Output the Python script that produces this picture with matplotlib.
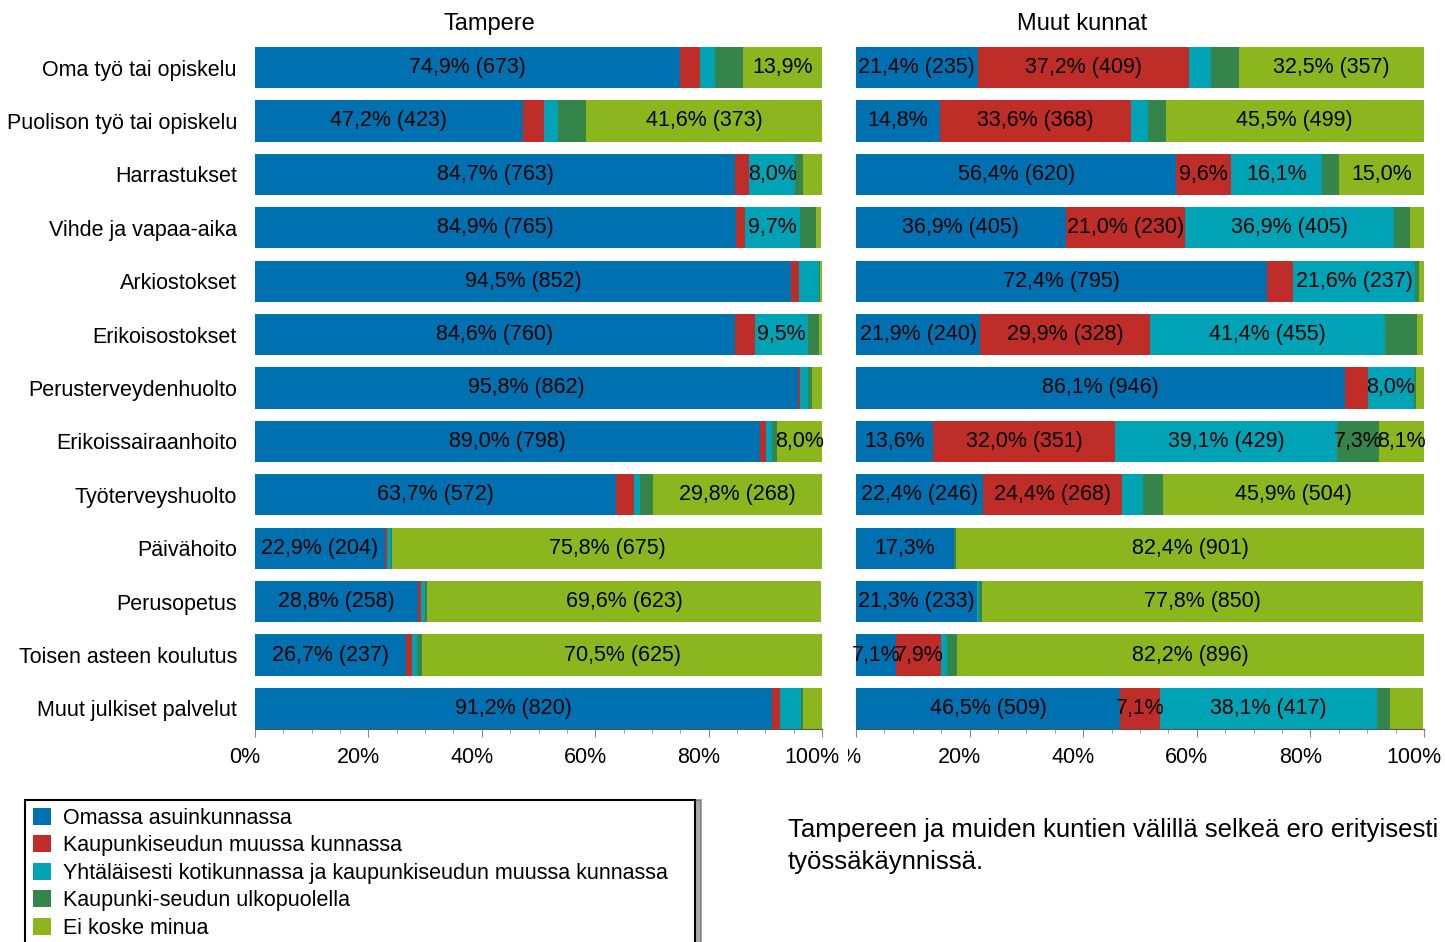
import matplotlib
matplotlib.use("Agg")
import matplotlib.pyplot as plt
from matplotlib.patches import Patch
from matplotlib.ticker import MultipleLocator, FuncFormatter
from matplotlib.transforms import ScaledTranslation

plt.rcParams['font.family'] = ['Liberation Sans', 'DejaVu Sans']

categories = ["Oma työ tai opiskelu", "Puolison työ tai opiskelu", "Harrastukset",
              "Vihde ja vapaa-aika", "Arkiostokset", "Erikoisostokset",
              "Perusterveydenhuolto", "Erikoissairaanhoito", "Työterveyshuolto",
              "Päivähoito", "Perusopetus", "Toisen asteen koulutus",
              "Muut julkiset palvelut"]

series_names = ["Omassa asuinkunnassa", "Kaupunkiseudun muussa kunnassa",
                "Yhtäläisesti kotikunnassa ja kaupunkiseudun muussa kunnassa",
                "Kaupunki-seudun ulkopuolella", "Ei koske minua"]
colors = ["#0071B0", "#BE2D27", "#00A3B5", "#35844A", "#8CB61E"]

# Tampere, % of respondents
tre_oma = [74.9, 47.2, 84.7, 84.9, 94.5, 84.6, 95.8, 89.0, 63.7, 22.9, 28.8, 26.7, 91.2]
tre_muu = [3.6, 3.8, 2.5, 1.5, 1.4, 3.5, 0.4, 1.1, 3.2, 0.3, 0.4, 1.0, 1.4]
tre_yht = [2.7, 2.5, 8.0, 9.7, 3.5, 9.5, 1.4, 1.1, 1.0, 0.7, 0.7, 0.8, 3.7]
tre_ulko = [4.9, 4.9, 1.4, 2.8, 0.3, 1.8, 0.7, 0.8, 2.3, 0.3, 0.4, 1.0, 0.3]
tre_ei = [13.9, 41.6, 3.4, 1.0, 0.3, 0.6, 1.7, 8.0, 29.8, 75.8, 69.6, 70.5, 3.4]

# Muut kunnat, % of respondents
muut_oma = [21.4, 14.8, 56.4, 36.9, 72.4, 21.9, 86.1, 13.6, 22.4, 17.3, 21.3, 7.1, 46.5]
muut_muu = [37.2, 33.6, 9.6, 21.0, 4.5, 29.9, 4.1, 32.0, 24.4, 0.0, 0.0, 7.9, 7.1]
muut_yht = [3.9, 3.0, 16.1, 36.9, 21.6, 41.4, 8.0, 39.1, 3.8, 0.0, 0.4, 1.1, 38.1]
muut_ulko = [5.0, 3.1, 2.9, 2.7, 0.7, 5.5, 0.4, 7.3, 3.5, 0.3, 0.4, 1.7, 2.3]
muut_ei = [32.5, 45.5, 15.0, 2.5, 0.8, 1.1, 1.4, 8.1, 45.9, 82.4, 77.8, 82.2, 5.9]

# counts shown in labels (None = not shown)
N = None
tre_oma_n = [673, 423, 763, 765, 852, 760, 862, 798, 572, 204, 258, 237, 820]
tre_ei_n = [N, 373, N, N, N, N, N, N, 268, 675, 623, 625, N]
muut_oma_n = [235, N, 620, 405, 795, 240, 946, N, 246, N, 233, N, 509]
muut_muu_n = [409, 368, N, 230, N, 328, N, 351, 268, N, N, N, N]
muut_yht_n = [N, N, N, 405, 237, 455, N, 429, N, N, N, N, 417]
muut_ei_n = [357, 499, N, N, N, N, N, N, 504, 901, 850, 896, N]
empty_n = [N] * len(categories)

FS = 15.5


def fmt(v):
    return ("%.1f" % v).replace(".", ",") + "%"


def draw_panel(ax, title, title_x, series, counts):
    y = list(range(len(categories)))
    left = [0.0] * len(categories)
    for vals, cnts, col in zip(series, counts, colors):
        ax.barh(y, vals, left=left, height=0.77, color=col)
        for i in range(len(vals)):
            if vals[i] >= 7:
                txt = fmt(vals[i])
                if cnts[i] is not None:
                    txt += " (%d)" % cnts[i]
                ax.text(left[i] + vals[i] / 2, i, txt, ha="center", va="center",
                        fontsize=FS, color="black")
            left[i] += vals[i]
    ax.set_xlim(0, 100)
    ax.set_ylim(len(categories) - 1 + 0.385, -0.385)
    ax.set_title(title, fontsize=17, pad=12, x=title_x)
    for s in ["top", "right", "left"]:
        ax.spines[s].set_visible(False)
    ax.spines["bottom"].set_color("#555555")
    ax.xaxis.set_major_locator(MultipleLocator(20))
    ax.xaxis.set_minor_locator(MultipleLocator(5))
    ax.xaxis.set_major_formatter(FuncFormatter(lambda v, p: "%d%%" % v))
    ax.tick_params(axis="x", which="major", length=6, color="#888888", labelsize=FS, pad=7)
    ax.tick_params(axis="x", which="minor", length=3, color="#888888")
    ax.tick_params(axis="y", length=0)


fig = plt.figure(figsize=(14.45, 9.42), dpi=100)
ax1 = fig.add_axes([255 / 1445, 1 - 729 / 942, 567 / 1445, 682 / 942])
ax2 = fig.add_axes([856 / 1445, 1 - 729 / 942, 568 / 1445, 682 / 942])
ax1.set_zorder(3)

draw_panel(ax1, "Tampere", 0.413, [tre_oma, tre_muu, tre_yht, tre_ulko, tre_ei],
           [tre_oma_n, empty_n, empty_n, empty_n, tre_ei_n])
draw_panel(ax2, "Muut kunnat", 0.398, [muut_oma, muut_muu, muut_yht, muut_ulko, muut_ei],
           [muut_oma_n, muut_muu_n, muut_yht_n, empty_n, muut_ei_n])

ax1.set_yticks(range(len(categories)))
ax1.set_yticklabels(categories, fontsize=FS)
ax1.tick_params(axis="y", pad=13)
ax2.set_yticks([])

fig.canvas.draw()

# x tick labels sit a little left of their ticks in the original
shift = ScaledTranslation(-0.10, 0, fig.dpi_scale_trans)
for ax in (ax1, ax2):
    for tick in ax.xaxis.get_major_ticks():
        tick.label1.set_transform(tick.label1.get_transform() + shift)
        # left panel's "100%" covers the "0" of the right panel's first label
        if ax is ax1 and tick.label1.get_text() == "100%":
            tick.label1.set_bbox(dict(facecolor="white", edgecolor="none", pad=6))

handles = [Patch(facecolor=c, edgecolor="none") for c in colors]
leg = fig.legend(handles, series_names, loc="upper left",
                 bbox_to_anchor=(25 / 1445, 1 - 800 / 942 - 0.2, 670 / 1445, 0.2),
                 mode="expand", fontsize=FS,
                 frameon=True, fancybox=False, shadow={"ox": 4, "oy": 0, "color": "#555555"},
                 borderpad=0.35, labelspacing=0.3, handlelength=0.85, handleheight=0.85,
                 handletextpad=0.55, borderaxespad=0)
leg.get_frame().set_edgecolor("black")
leg.get_frame().set_linewidth(1.5)

fig.text(788 / 1445, 1 - 846 / 942, "Tampereen ja muiden kuntien välillä selkeä ero erityisesti\ntyössäkäynnissä.",
         fontsize=18.5, va="center", ha="left", linespacing=1.38)

fig.savefig("out.png", dpi=100)
